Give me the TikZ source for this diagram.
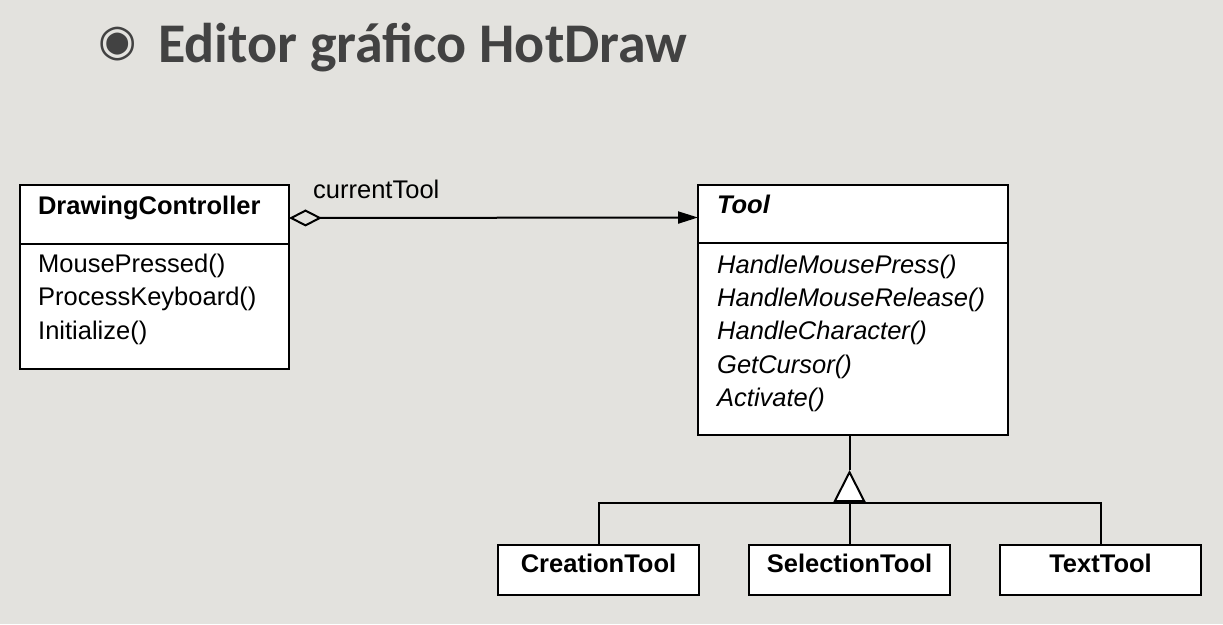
\documentclass[tikz,border=0pt]{standalone}
\usepackage{fontspec}
\setmainfont{Liberation Sans}
\newfontfamily\titlefont{Carlito}
\newfontfamily\symbfont{DejaVu Sans}
\usetikzlibrary{arrows.meta}
\definecolor{slidebg}{HTML}{E3E2DE}
\definecolor{titlegray}{HTML}{424242}
\newcommand\umlsize{\fontsize{25.5pt}{33.4pt}\selectfont}

\begin{document}
\begin{tikzpicture}[x=1pt,y=-1pt]

\tikzset{ClassBox/.style = {draw, line width=2pt, fill=white, inner sep=0pt, outer sep=0pt, anchor=north west},
         HeadBox/.style  = {ClassBox, text height=18pt, text depth=19pt, align=left},
         SubBox/.style   = {draw, line width=2pt, fill=white, inner sep=0pt, outer sep=0pt, anchor=north,
                            minimum width=201pt, minimum height=50pt, text height=18pt, text depth=14pt,
                            font=\umlsize\bfseries},
         OpsText/.style  = {font=\umlsize, inner sep=0pt, align=left, anchor=base west},
         Link/.style     = {line width=2pt}}

\useasboundingbox[fill=slidebg] (0,0) rectangle (1223,624);

\node[text=titlegray, font=\symbfont\fontsize{44pt}{44pt}\selectfont] (bullet) at (118,44) {◉};
\node[text=titlegray, font=\titlefont\bfseries\fontsize{56pt}{60pt}\selectfont, inner sep=0pt, anchor=base west] (title) at (158,62) {Editor gráfico HotDraw};

\node[HeadBox, minimum width=269pt, minimum height=59pt, text width=233pt, font=\umlsize\bfseries] (dchead) at (20,185) {DrawingController};
\node[ClassBox, minimum width=269pt, minimum height=125pt] (dcbody) at (dchead.south west) {};
\node[OpsText] (dcops) at (38,339) {MousePressed()\\ProcessKeyboard()\\Initialize()};

\node[HeadBox, minimum width=310pt, minimum height=58pt, text width=272pt, font=\umlsize\bfseries\itshape] (toolhead) at (698,185) {Tool};
\node[ClassBox, minimum width=310pt, minimum height=192pt] (toolbody) at (toolhead.south west) {};
\node[OpsText, font=\umlsize\itshape] (toolops) at (717,406.6) {HandleMousePress()\\HandleMouseRelease()\\HandleCharacter()\\GetCursor()\\Activate()};

\node[SubBox] (crtool) at (598.5,545) {CreationTool};
\node[SubBox] (seltool) at (849.5,545) {SelectionTool};
\node[SubBox] (txtool) at (1100.5,545) {TextTool};

\draw[Link, {Diamond[open, length=33pt, width=17pt]}-{Triangle[length=20pt, width=12pt]}] ([yshift=-3.5pt]dchead.east) -- ([yshift=-3.5pt]toolhead.west);
\node[OpsText] (curtool) at (313,198) {currentTool};

\coordinate (apex) at (849.5,470);
\coordinate (fork) at (849.5,503);
\draw[Link] (seltool.north |- toolbody.south) -- (apex);
\draw[Link, -{Triangle[open, fill=white, length=32pt, width=32pt]}] (fork) -- (apex);
\draw[Link] (crtool.north) |- (fork) -| (txtool.north);
\draw[Link] (fork) -- (seltool.north);

\end{tikzpicture}
\end{document}
